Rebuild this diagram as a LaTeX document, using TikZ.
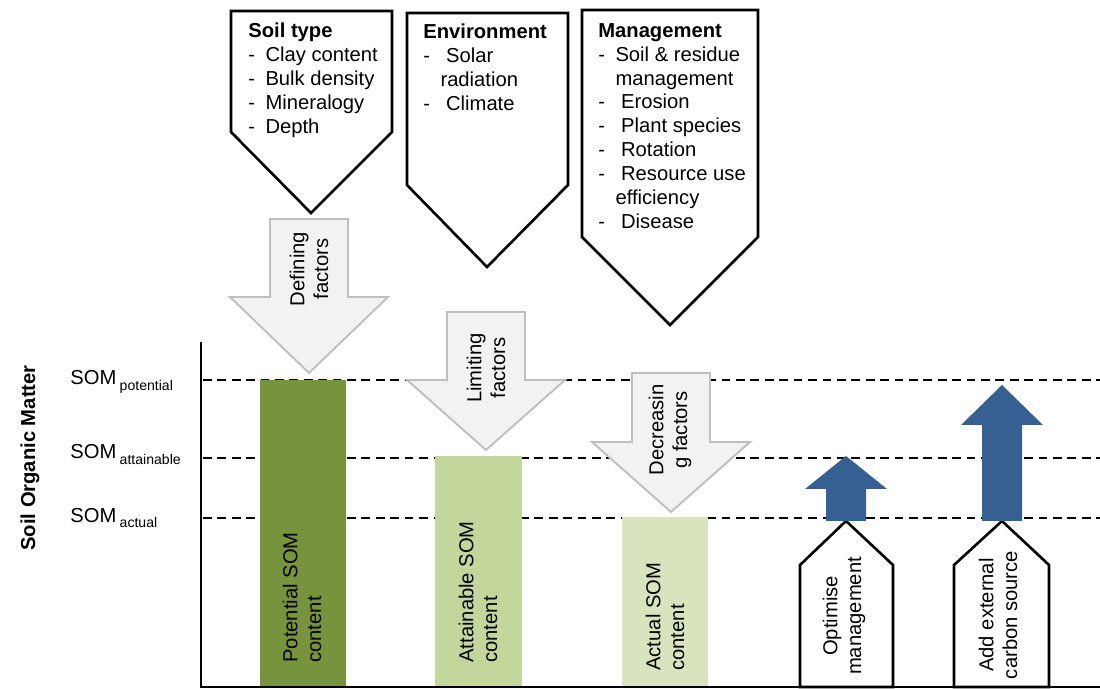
\documentclass[tikz,border=0pt]{standalone}
\usepackage{fontspec}
\setmainfont{Liberation Sans}
\definecolor{potgreen}{HTML}{77933C}
\definecolor{attgreen}{HTML}{C3D69B}
\definecolor{actgreen}{HTML}{D7E4BD}
\definecolor{gainblue}{HTML}{376092}
\definecolor{factorfill}{HTML}{F2F2F2}
\definecolor{factorline}{HTML}{BFBFBF}
\newcommand{\itm}{\makebox[0.85em][l]{-}}
\newcommand{\som}[1]{SOM\,{\fontsize{8}{9}\selectfont\raisebox{-3pt}{#1}}}

\begin{document}
\begin{tikzpicture}[x=0.02cm, y=-0.02cm,
    txt/.style={font=\fontsize{11.5}{13.6}\selectfont},
    topbox/.style={draw=black, line width=1.5pt, fill=white, line join=miter},
    gainbox/.style={draw=black, line width=1.5pt, fill=white, line join=miter},
    factorarrow/.style={draw=factorline, line width=1.1pt, fill=factorfill},
    gainarrow/.style={fill=gainblue},
    somlevel/.style={line width=1.1pt, dash pattern=on 5pt off 3.2pt},
    boxtext/.style={txt, anchor=north west, align=left, inner sep=0pt},
    bartext/.style={txt, rotate=90, anchor=west, align=left, inner sep=0pt},
    arrowtext/.style={txt, rotate=90, align=center, inner sep=0pt}]
  \useasboundingbox (0,0) rectangle (1100,689);

  \foreach \ylev in {380,458,518}
    \draw [somlevel] (203,\ylev) -- (1100,\ylev);

  \fill [potgreen] (260,380) rectangle (346,687);
  \fill [attgreen] (435,456) rectangle (522,687);
  \fill [actgreen] (622,517) rectangle (708,687);

  \foreach \cx/\ya/\yb/\yc in {309/219/297/373, 486/312/380/450, 671/373/442/512}
    \draw [factorarrow] (\cx-39,\ya) -- (\cx+39,\ya) -- (\cx+39,\yb) -- (\cx+79,\yb)
      -- (\cx,\yc) -- (\cx-79,\yb) -- (\cx-39,\yb) -- cycle;

  \draw [topbox] (231,11) -- (392,11) -- (392,132) -- (311,213) -- (231,132) -- cycle;
  \draw [topbox] (407,13) -- (568,13) -- (568,185) -- (487,267) -- (407,185) -- cycle;
  \draw [topbox] (582,10) -- (758,10) -- (758,237) -- (670,325) -- (582,237) -- cycle;

  \draw [gainbox] (800,687) -- (800,565) -- (846,521) -- (893,565) -- (893,687) -- cycle;
  \draw [gainbox] (954,687) -- (954,565) -- (1002,521) -- (1049,565) -- (1049,687) -- cycle;

  \foreach \cx/\ys/\yt in {846/489/456, 1002/425/385}
    \fill [gainarrow] (\cx-20,521) -- (\cx-20,\ys) -- (\cx-41,\ys) -- (\cx,\yt)
      -- (\cx+41,\ys) -- (\cx+20,\ys) -- (\cx+20,521) -- cycle;

  \draw [line width=1.5pt] (201,342) -- (201,687) -- (1100,687);

  \node [boxtext] (soiltype) at (248,23) {\textbf{Soil type}\\ \itm Clay content\\ \itm Bulk density\\ \itm Mineralogy\\ \itm Depth};
  \node [boxtext] (environment) at (423,24) {\textbf{Environment}\\ \itm\ Solar\\ \hspace*{0.85em}radiation\\ \itm\ Climate};
  \node [boxtext] (management) at (598,23) {\textbf{Management}\\ \itm Soil \& residue\\ \hspace*{0.85em}management\\ \itm\ Erosion\\ \itm\ Plant species\\ \itm\ Rotation\\ \itm\ Resource use\\ \hspace*{0.85em}efficiency\\ \itm\ Disease};

  \node [arrowtext] (defining) at (309,269) {Defining\\factors};
  \node [arrowtext] (limiting) at (486,368) {Limiting\\factors};
  \node [arrowtext] (decreasing) at (670,430) {Decreasin\\g factors};

  \node [bartext] (potential) at (302,663) {Potential SOM\\content};
  \node [bartext] (attainable) at (478,663) {Attainable SOM\\content};
  \node [bartext] (actual) at (665,671) {Actual SOM\\content};

  \node [arrowtext] (optimise) at (844,616) {Optimise\\management};
  \node [arrowtext] (carbon) at (998,615) {Add external\\carbon source};

  \node [txt, anchor=base west, inner sep=0pt] (sompot) at (70,385) {\som{potential}};
  \node [txt, anchor=base west, inner sep=0pt] (somatt) at (70,459) {\som{attainable}};
  \node [txt, anchor=base west, inner sep=0pt] (somact) at (70,522) {\som{actual}};
  \node [txt, rotate=90] (somaxis) at (30,458) {\textbf{Soil Organic Matter}};
\end{tikzpicture}
\end{document}
